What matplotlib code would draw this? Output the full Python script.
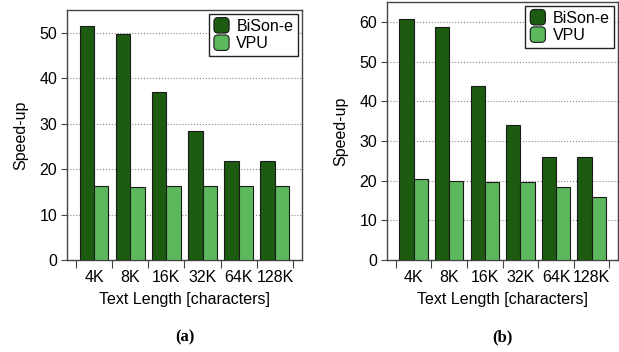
import matplotlib
matplotlib.use('Agg')
from matplotlib import pyplot as plt
from matplotlib.patches import FancyBboxPatch, Patch
from matplotlib.legend_handler import HandlerPatch
import numpy as np

plt.rcParams['font.family'] = ['Liberation Sans', 'DejaVu Sans']

lengths = ['4K', '8K', '16K', '32K', '64K', '128K']
bison_a = [51.6, 49.8, 37.0, 28.4, 21.7, 21.7]
vpu_a = [16.3, 16.0, 16.2, 16.2, 16.2, 16.2]
bison_b = [60.6, 58.7, 43.9, 33.9, 25.9, 25.9]
vpu_b = [20.4, 19.8, 19.6, 19.6, 18.4, 15.9]

dark = '#1d5b11'
light = '#5cb85c'
fs = 11.5


def rounded(legend, orig_handle, xdescent, ydescent, width, height, fontsize):
    return FancyBboxPatch((-xdescent, -ydescent - 1), width, height + 2,
                          boxstyle='round,pad=0,rounding_size=3')


def panel(ax, bison, vpu, top, letter, cap_y):
    x = np.arange(len(lengths))
    w = 0.4
    ax.bar(x - w / 2, bison, w, color=dark, edgecolor='#1a1a1a', linewidth=0.8, zorder=3)
    ax.bar(x + w / 2, vpu, w, color=light, edgecolor='#1a1a1a', linewidth=0.8, zorder=3)
    ax.set_xlim(-0.75, 5.75)
    ax.set_ylim(0, top)
    ax.set_xticks(x)
    ax.set_xticklabels(lengths, fontsize=fs)
    ax.tick_params(axis='x', which='major', length=0, pad=7)
    ax.set_xticks(np.arange(len(lengths) + 1) - 0.5, minor=True)
    ax.tick_params(axis='x', which='minor', length=6, width=0.8, color='#444444')
    ax.tick_params(axis='y', labelsize=fs, length=4, width=0.8, color='#444444', pad=3)
    ax.yaxis.grid(True, linestyle=':', color='#888888', linewidth=0.8, zorder=0)
    ax.set_axisbelow(True)
    for s in ax.spines.values():
        s.set_color('#444444')
        s.set_linewidth(1.0)
    ax.set_ylabel('Speed-up', fontsize=fs, labelpad=8)
    ax.set_xlabel('Text Length [characters]', fontsize=fs, labelpad=5)
    handles = [Patch(facecolor=dark, edgecolor='#1a1a1a', linewidth=0.8, label='BiSon-e'),
               Patch(facecolor=light, edgecolor='#1a1a1a', linewidth=0.8, label='VPU')]
    leg = ax.legend(handles=handles, loc='upper right', fontsize=fs, fancybox=False,
                    framealpha=1, edgecolor='#222222', handlelength=0.95, handleheight=0.85,
                    handletextpad=0.45, borderpad=0.3, labelspacing=0.15,
                    borderaxespad=0.25,
                    handler_map={Patch: HandlerPatch(patch_func=rounded)})
    leg.get_frame().set_linewidth(1.0)
    ax.text(0.5, cap_y, letter, transform=ax.transAxes, ha='center', va='center',
            fontsize=12, fontweight='bold', family=['Liberation Serif', 'DejaVu Serif'])


fig = plt.figure(figsize=(6.19, 3.52), dpi=100)
ax1 = fig.add_axes([0.108, 0.2614, 0.380, 0.710])
ax2 = fig.add_axes([0.625, 0.2614, 0.374, 0.733])
panel(ax1, bison_a, vpu_a, 55, '(a)', -0.31)
panel(ax2, bison_b, vpu_b, 65, '(b)', -0.31 * 0.710 / 0.733)
fig.savefig('out.png', dpi=100)
